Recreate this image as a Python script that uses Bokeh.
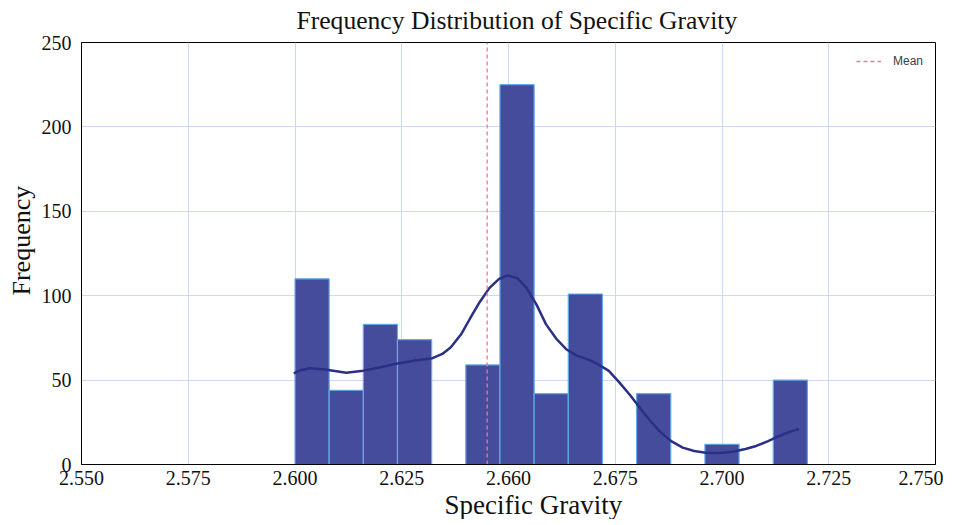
from bokeh.plotting import figure
from bokeh.embed import file_html
from bokeh.resources import INLINE
from bokeh.models import FixedTicker, Range1d, Legend, Title

# ---- data ----
bin_edges = [2.600, 2.608, 2.616, 2.624, 2.632, 2.640, 2.648, 2.656,
             2.664, 2.672, 2.680, 2.688, 2.696, 2.704, 2.712, 2.720]
counts = [110, 44, 83, 74, 0, 59, 225, 42, 101, 0, 42, 0, 12, 0, 50]

kde_x = [2.5997, 2.6015, 2.6035, 2.6070, 2.6120, 2.6160, 2.6198, 2.6240, 2.6276,
         2.6322, 2.6345, 2.6365, 2.6390, 2.6410, 2.6432, 2.6455, 2.6478, 2.6498,
         2.6520, 2.6541, 2.6565, 2.6588, 2.6612, 2.6635, 2.6660, 2.6690, 2.6712,
         2.6735, 2.6760, 2.6785, 2.6807, 2.6830, 2.6853, 2.6880, 2.6908, 2.6935,
         2.6962, 2.6995, 2.7025, 2.7055, 2.7080, 2.7108, 2.7134, 2.7160, 2.7180]
kde_y = [54.0, 56.0, 57.0, 56.3, 54.4, 55.6, 57.5, 59.8, 61.4,
         63.0, 65.5, 69.5, 77.5, 86.5, 96.0, 104.5, 110.0, 112.0,
         110.5, 105.0, 95.0, 83.0, 74.5, 68.3, 64.5, 61.8, 59.0,
         55.5, 48.5, 41.0, 33.7, 26.5, 19.9, 14.0, 10.0, 8.0,
         7.0, 6.8, 7.6, 9.2, 11.0, 13.8, 16.9, 19.5, 21.0]

mean_value = 2.645

x_ticks = [2.550, 2.575, 2.600, 2.625, 2.650, 2.675, 2.700, 2.725, 2.750]
x_tick_labels = ["2.550", "2.575", "2.600", "2.625", "2.660", "2.675", "2.700", "2.725", "2.750"]
y_ticks = [0, 50, 100, 150, 200, 250]

title_text = "Frequency Distribution of Specific Gravity"
x_label = "Specific Gravity"
y_label = "Frequency"

# ---- figure ----
SERIF = "Liberation Serif"

p = figure(frame_width=854, frame_height=422,
           x_range=Range1d(2.55, 2.75), y_range=Range1d(0, 250),
           output_backend="svg", toolbar_location=None,
           min_border_left=81, min_border_right=8, min_border_top=41, min_border_bottom=10,
           title=title_text)

p.title.text_font = SERIF
p.title.text_font_size = "25.6px"
p.title.text_font_style = "normal"
p.title.align = "left"
p.title.vertical_align = "top"
p.title.offset = 215
p.title.text_color = "#111111"
p.title.standoff = 11

# grid
for g in (p.xgrid, p.ygrid):
    g.grid_line_color = "#c8dbf3"
    g.grid_line_width = 1
p.xgrid.ticker = FixedTicker(ticks=x_ticks)
p.ygrid.ticker = FixedTicker(ticks=y_ticks)

p.outline_line_color = "black"
p.outline_line_width = 1
p.outline_line_alpha = 1.0

# bars
p.quad(left=bin_edges[:-1], right=bin_edges[1:], top=counts, bottom=0,
       fill_color="#3f4698", fill_alpha=0.97,
       line_color="#63a9ea", line_width=1.2)

# kde
p.line(kde_x, kde_y, line_color="#2b2f86", line_width=2.5)

# mean line
mean_r = p.line([mean_value, mean_value], [y_ticks[0], y_ticks[-1]],
                line_color="#ee7892", line_width=1.3, line_dash="4 3")

legend = Legend(items=[("Mean", [mean_r])], location="top_right",
                border_line_color=None, background_fill_alpha=0.0,
                label_text_font="Liberation Sans", label_text_font_size="12px",
                label_text_color="#3a3a4a", glyph_width=25, glyph_height=12,
                padding=4, margin=12, label_standoff=12)
p.add_layout(legend)

# axes
p.xaxis.ticker = FixedTicker(ticks=x_ticks)
p.xaxis.major_label_overrides = {t: s for t, s in zip(x_ticks, x_tick_labels)}
p.yaxis.ticker = FixedTicker(ticks=y_ticks)

for ax in (p.xaxis[0], p.yaxis[0]):
    ax.axis_line_color = "black"
    ax.axis_line_width = 1
    ax.major_tick_out = 0
    ax.major_tick_in = 0
    ax.minor_tick_out = 0
    ax.minor_tick_in = 0
    ax.major_label_text_font = SERIF
    ax.major_label_text_font_size = "20px"
    ax.major_label_text_color = "#111111"

p.xaxis.major_label_standoff = 6
p.yaxis.major_label_standoff = 10

# axis titles (placed as side titles so they can be offset like the reference)
xlab = Title(text=x_label, align="left", offset=363, standoff=0,
             text_font=SERIF, text_font_size="27px", text_font_style="normal",
             text_color="#111111")
p.add_layout(xlab, "below")
ylab = Title(text=y_label, align="left", offset=169, standoff=5,
             text_font=SERIF, text_font_size="26px", text_font_style="normal",
             text_color="#111111")
p.add_layout(ylab, "left")

open("out.html", "w").write(file_html(p, INLINE))
